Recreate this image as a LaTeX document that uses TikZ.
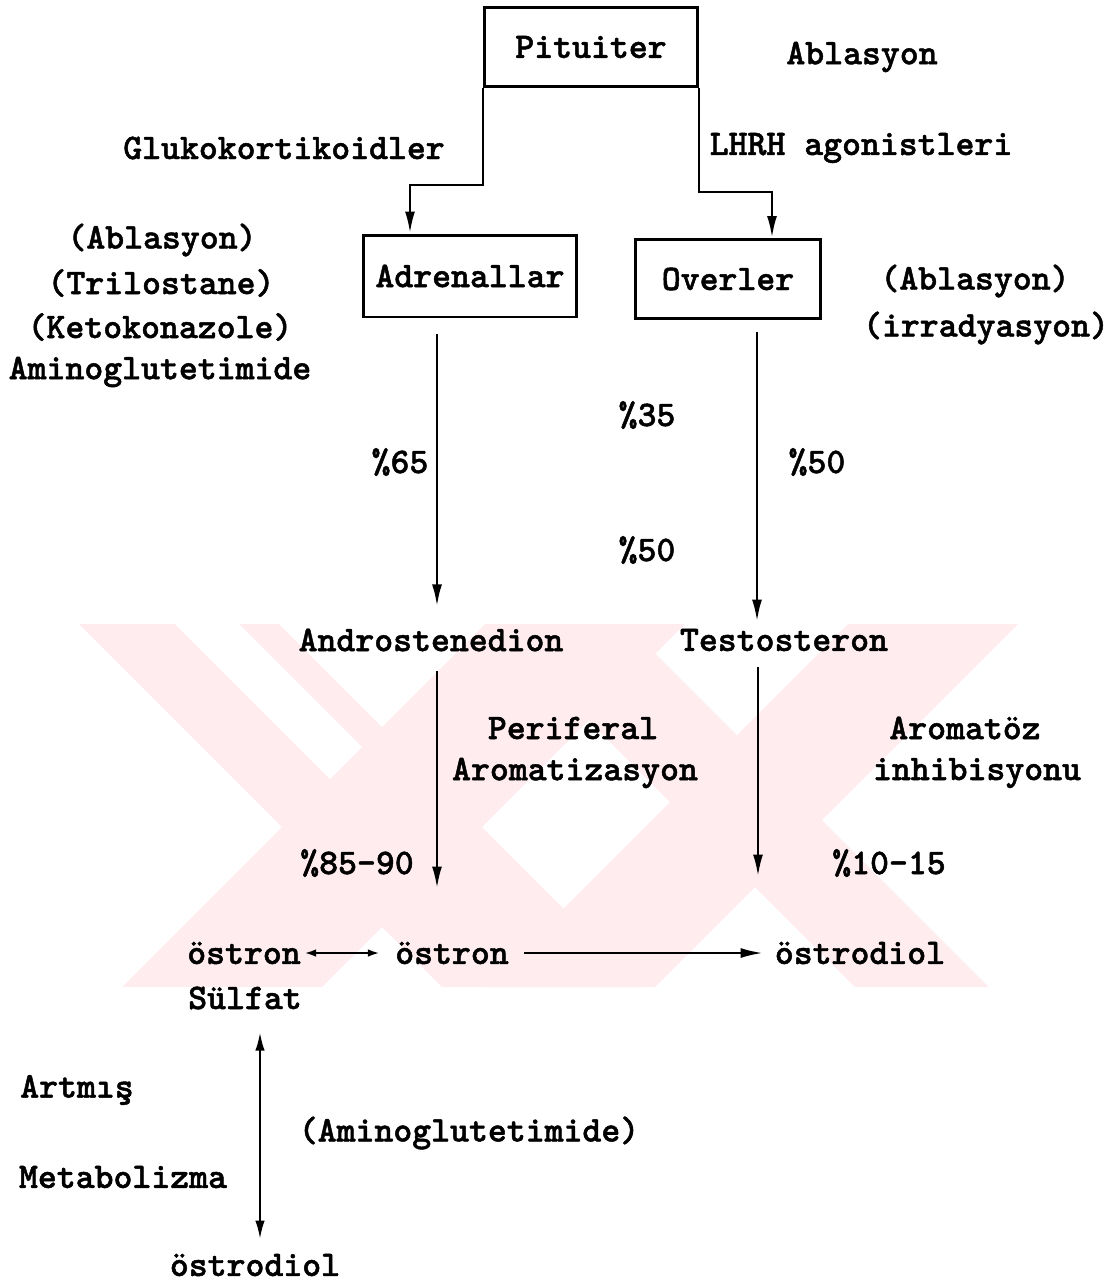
\documentclass[tikz,border=0pt]{standalone}
\usepackage{fontspec}
\newfontfamily\typewriter{lmmonolt10-bold.otf}[BoldFont=lmmonolt10-bold.otf, BoldFeatures={FakeBold=1.3}]
\usetikzlibrary{arrows.meta}
\definecolor{wmark}{RGB}{254,236,239}

\begin{document}
\begin{tikzpicture}[x=0.02cm, y=-0.02cm, line width=1.5pt,
    txt/.style={font=\typewriter\bfseries\fontsize{20.5}{22}\selectfont, inner sep=0pt},
    organ/.style={draw, txt, line width=1.7pt, minimum height=1.58cm},
    arr/.style={-{Latex[length=0.44cm,width=0.2cm]}},
    twoarr/.style={{Latex[length=0.38cm,width=0.19cm]}-{Latex[length=0.38cm,width=0.19cm]}},
    smallarr/.style={{Latex[length=0.24cm,width=0.15cm]}-{Latex[length=0.24cm,width=0.15cm]}}]
	\useasboundingbox (0,0) rectangle (1115,1282);
	
	% Watermark behind the text
	\fill[wmark] (79,624) -- (279,624) -- (642,987) -- (442,987) -- cycle;
	\fill[wmark] (485,624) -- (685,624) -- (322,987) -- (122,987) -- cycle;
	\fill[wmark] (492,624) -- (626,624) -- (989,987) -- (855,987) -- cycle;
	\fill[wmark] (848,624) -- (1018,624) -- (655,987) -- (485,987) -- cycle;
	\fill[white] (175,624) -- (239,624) -- (362,747) -- (330,779) -- cycle;
	
	% Glands
	\node[organ, minimum width=4.26cm] (pit) at (591,47) {Pituiter};
	\node[organ, minimum width=4.28cm, minimum height=1.64cm] (adr) at (470,276) {Adrenallar};
	\node[organ, minimum width=3.7cm] (ovr) at (728,279) {Overler};
	
	% Treatments
	\node[txt] (abl)    at (862,57)  {Ablasyon};
	\node[txt] (gluko)  at (284,148) {Glukokortikoidler};
	\node[txt] (lhrh)   at (861,148) {LHRH agonistleri};
	\node[txt] (adrabl) at (162,240) {(Ablasyon)};
	\node[txt] (trilo)  at (161,283) {(Trilostane)};
	\node[txt] (keto)   at (160,327) {(Ketokonazole)};
	\node[txt] (amino)  at (160,372) {Aminoglutetimide};
	\node[txt] (ovrabl) at (975,281) {(Ablasyon)};
	\node[txt] (irr)    at (986,328) {(irradyasyon)};
	
	% Shares
	\node[txt] (p65)  at (400,462) {\%65};
	\node[txt] (p35)  at (647,415) {\%35};
	\node[txt] (p50a) at (647,550) {\%50};
	\node[txt] (p50b) at (817,462) {\%50};
	\node[txt] (p85)  at (357,863) {\%85-90};
	\node[txt] (p10)  at (889,863) {\%10-15};
	
	% Steroids
	\node[txt] (andro) at (431,640) {Androstenedion};
	\node[txt] (testo) at (784,640) {Testosteron};
	\node[txt] (peri)  at (573,728) {Periferal};
	\node[txt] (arom)  at (575,773) {Aromatizasyon};
	\node[txt] (aroz)  at (965,728) {Aromatöz};
	\node[txt] (inhib) at (977,773) {inhibisyonu};
	\node[txt] (os1)   at (244,953) {östron};
	\node[txt] (os2)   at (452,953) {östron};
	\node[txt] (od)    at (860,953) {östrodiol};
	\node[txt] (sul)   at (245,998) {Sülfat};
	\node[txt] (artm)  at (77,1090) {Artmış};
	\node[txt] (meta)  at (123,1177) {Metabolizma};
	\node[txt] (amino2) at (469,1133) {(Aminoglutetimide)};
	\node[txt] (od2)   at (255,1265) {östrodiol};
	
	% Wires from the pituitary
	\draw[arr] (pit.south west) -- ++(0,97) -| ([shift={(-60,0)}]adr.north);
	\draw[arr] (pit.south east) -- ++(0,104) -| ([shift={(44,0)}]ovr.north);
	
	% Down to the androgens
	\draw[arr] ([shift={(-33,16)}]adr.south) -- ([shift={(6,-21)}]andro.north);
	\draw[arr] ([shift={(29,12)}]ovr.south) -- ([shift={(-27,-6)}]testo.north);
	
	% Aromatization
	\draw[arr] ([shift={(6,18)}]andro.south) -- ([shift={(-15,-52)}]os2.north);
	\draw[arr] ([shift={(-26,15)}]testo.south) -- ([shift={(-102,-64)}]od.north);
	
	% Oestrogen row
	\draw[smallarr, shorten <=0.04cm, shorten >=0.28cm] (os1.east) -- (os2.west);
	\draw[arr, line width=1.2pt, shorten <=0.28cm, shorten >=0.22cm] (os2.east) -- (od.west);
	\draw[twoarr] ([shift={(15,21)}]sul.south) -- ([shift={(5,-13)}]od2.north);
\end{tikzpicture}
\end{document}
